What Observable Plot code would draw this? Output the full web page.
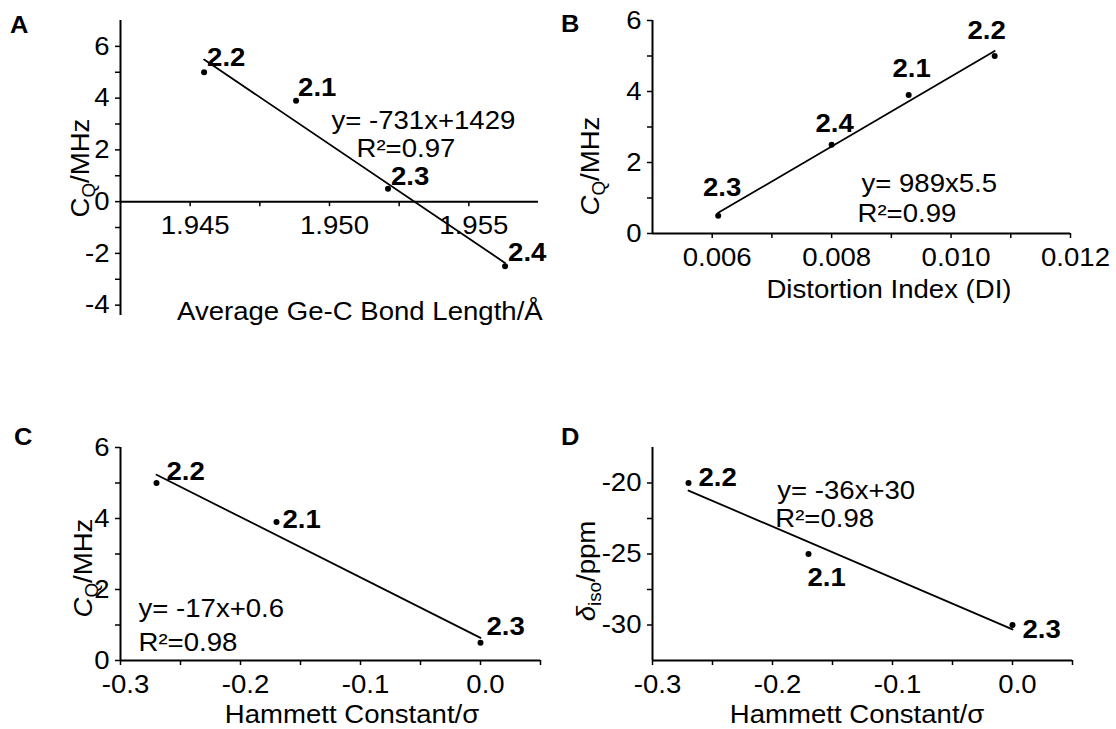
<!DOCTYPE html>
<html>
<head>
<meta charset="utf-8">
<script src="https://cdn.jsdelivr.net/npm/d3@7"></script>
<script src="https://cdn.jsdelivr.net/npm/@observablehq/plot@0.6"></script>
<style>
  html, body { margin: 0; padding: 0; background: #fff; }
  #fig { position: relative; width: 1116px; height: 729px; background: #fff; overflow: hidden; }
  #fig svg { position: absolute; left: 0; top: 0; overflow: visible; }
</style>
</head>
<body>
<div id="fig"></div>
<script>
// ---------------- DATA ----------------
const compoundsA = ["2.1", "2.2", "2.3", "2.4"];
const bondLength = [1.9488, 1.9455, 1.9521, 1.9563];      // Å
const cqA = [3.9, 5.0, 0.5, -2.5];                           // MHz

const compoundsB = ["2.1", "2.2", "2.3", "2.4"];
const distortionIndex = [0.00929, 0.01073, 0.0061, 0.0080];
const cqB = [3.9, 5.0, 0.5, 2.5];

const compoundsC = ["2.1", "2.2", "2.3"];
const hammettC = [-0.17, -0.27, 0.0];
const cqC = [3.9, 5.0, 0.5];

const compoundsD = ["2.1", "2.2", "2.3"];
const hammettD = [-0.17, -0.27, 0.0];
const deltaIso = [-25, -20, -30];                            // ppm

// tick values
const ticksAX = [1.945, 1.950, 1.955];
const minorAX = [1.9475, 1.9525];
const ticksAY = [-4, -2, 0, 2, 4, 6];
const minorAY = [-3, -1, 1, 3, 5];
const ticksBX = [0.006, 0.008, 0.010, 0.012];
const minorBX = [0.007, 0.009, 0.011];
const ticksBY = [0, 2, 4, 6];
const minorBY = [1, 3, 5];
const ticksHX = [-0.3, -0.2, -0.1, 0.0];
const minorHX = [-0.25, -0.15, -0.05, 0.05];
const ticksCY = [0, 2, 4, 6];
const minorCY = [1, 3, 5];
const ticksDY = [-30, -25, -20];
const minorDY = [-27.5, -22.5];

// equation texts
const eqA = ["y= -731x+1429", "R²=0.97"];
const eqB = ["y= 989x5.5", "R²=0.99"];
const eqC = ["y= -17x+0.6", "R²=0.98"];
const eqD = ["y= -36x+30", "R²=0.98"];

// ---------------- LAYOUT / STYLE ----------------
const W = 1116, H = 729;
const FONT = "'Liberation Sans', Arial, Helvetica, sans-serif";
const FS = 26;
const STRETCH = 1.06;   // glyphs in the reference are slightly wide

const tableA = compoundsA.map((id, i) => ({id, x: bondLength[i], y: cqA[i]}));
const tableB = compoundsB.map((id, i) => ({id, x: distortionIndex[i], y: cqB[i]}));
const tableC = compoundsC.map((id, i) => ({id, x: hammettC[i], y: cqC[i]}));
const tableD = compoundsD.map((id, i) => ({id, x: hammettD[i], y: deltaIso[i]}));

// label offsets (px) per compound: [dx, dy, anchor]
const offA = {"2.1": [2, -13, "start"], "2.2": [3, -15, "start"], "2.3": [3, -12, "start"], "2.4": [3, -14, "start"]};
const offB = {"2.1": [3, -26, "middle"], "2.2": [-8, -25, "middle"], "2.3": [4, -28, "middle"], "2.4": [3, -21, "middle"]};
const offC = {"2.1": [6, -2, "start"], "2.2": [10, -11, "start"], "2.3": [6, -16, "start"]};
const offD = {"2.1": [-1, 24, "start"], "2.2": [10, -5, "start"], "2.3": [10, 5, "start"]};

function pointMarks(table, offsets) {
  const marks = [
    Plot.linearRegressionY(table, {x: "x", y: "y", ci: 0, stroke: "black", strokeWidth: 1.8}),
    Plot.dot(table, {x: "x", y: "y", r: 3, fill: "black", stroke: "none"})
  ];
  for (const d of table) {
    const [dx, dy, anchor] = offsets[d.id];
    marks.push(Plot.text([d], {x: "x", y: "y", text: "id", dx, dy, textAnchor: anchor,
      lineAnchor: "middle", fontWeight: "bold", fontSize: FS, fill: "black"}));
  }
  return marks;
}

// equation annotation: lines placed at data positions (x, y per line)
function eqMarks(lines, pos) {
  return lines.map((t, i) => Plot.text([t], {x: () => pos[i][0], y: () => pos[i][1], text: d => d,
    textAnchor: "start", lineAnchor: "middle", fontSize: FS, fill: "black"}));
}

function xTicks(major, minor, yAt, fmt) {
  return [
    Plot.ruleX(major.concat(minor), {x: d => d, y1: yAt, y2: yAt, insetBottom: -5, stroke: "black", strokeWidth: 1.5}),
    Plot.text(major, {x: d => d, y: yAt, text: fmt, dx: 5, dy: 24, lineAnchor: "middle", fontSize: FS, fill: "black"})
  ];
}
function yTicks(major, minor, fmt) {
  return [
    Plot.axisY(minor, {anchor: "left", tickSize: 5, tickFormat: () => "", strokeWidth: 1.5, label: null}),
    Plot.axisY(major, {anchor: "left", tickSize: 5, tickPadding: 6, tickFormat: fmt, strokeWidth: 1.5, fontSize: FS, label: null})
  ];
}

function panel(frame, xDomain, yDomain, marks) {
  const [x0, x1, y0, y1] = frame;
  return Plot.plot({
    width: W, height: H,
    marginLeft: x0, marginRight: W - x1, marginTop: y0, marginBottom: H - y1,
    x: {domain: xDomain, axis: null, label: null},
    y: {domain: yDomain, axis: null, label: null},
    style: {fontFamily: FONT, fontSize: FS + "px", color: "black", background: "none", overflow: "visible"},
    marks
  });
}

function addText(svg, {x, y, rotate = 0, size = FS, weight = "normal", anchor = "start", parts}) {
  const t = d3.select(svg).append("text")
    .attr("transform", `translate(${x},${y}) rotate(${rotate})`)
    .attr("text-anchor", anchor)
    .attr("font-family", FONT)
    .attr("font-size", size)
    .attr("font-weight", weight)
    .attr("fill", "black");
  let shift = 0;
  for (const p of parts) {
    const s = t.append("tspan").text(p.t);
    if (p.italic) s.attr("font-style", "italic");
    if (p.sub) {
      s.attr("font-size", size * 0.68).attr("dy", 6 - shift);
      shift = 6;
    } else if (shift) {
      s.attr("dy", -shift);
      shift = 0;
    }
  }
}

function stretchTexts(svg) {
  svg.querySelectorAll("text").forEach(el => {
    const L = el.getComputedTextLength();
    if (L > 0) {
      el.setAttribute("textLength", (L * STRETCH).toFixed(1));
      el.setAttribute("lengthAdjust", "spacingAndGlyphs");
    }
  });
}

const fig = document.getElementById("fig");
const fmt1 = d => d.toFixed(1);
const fmt3 = d => d.toFixed(3);
const fmtInt = d => String(d);

// ---------- Panel A ----------
const aX = [1.9425, 1.9575];
const svgA = panel([120, 538, 20, 315], aX, [-4.4, 7], [
  Plot.ruleX([aX[0]], {stroke: "black", strokeWidth: 2}),
  Plot.ruleY([0], {stroke: "black", strokeWidth: 2}),
  ...xTicks(ticksAX, minorAX, 0, fmt3),
  ...yTicks(ticksAY, minorAY, fmtInt),
  ...pointMarks(tableA, offA),
  ...eqMarks(eqA, [[1.95007, 3.12], [1.95097, 2.05]])
]);
fig.appendChild(svgA);
addText(svgA, {x: 10, y: 33, size: 24, weight: "bold", parts: [{t: "A"}]});
addText(svgA, {x: 177, y: 320, parts: [{t: "Average Ge-C Bond Length/Å"}]});
addText(svgA, {x: 89, y: 168, rotate: -90, anchor: "middle", parts: [{t: "C"}, {t: "Q", sub: true}, {t: "/MHz"}]});

// ---------- Panel B ----------
const bX = [0.005, 0.012];
const svgB = panel([652, 1070, 20, 233], bX, [0, 6], [
  Plot.ruleX([bX[0]], {stroke: "black", strokeWidth: 2}),
  Plot.ruleY([0], {stroke: "black", strokeWidth: 2}),
  ...xTicks(ticksBX, minorBX, 0, fmt3),
  ...yTicks(ticksBY, minorBY, fmtInt),
  ...pointMarks(tableB, offB),
  ...eqMarks(eqB, [[0.0085, 1.41], [0.008433, 0.563]])
]);
fig.appendChild(svgB);
addText(svgB, {x: 561, y: 32, size: 24, weight: "bold", parts: [{t: "B"}]});
addText(svgB, {x: 889, y: 298, anchor: "middle", parts: [{t: "Distortion Index (DI)"}]});
addText(svgB, {x: 599, y: 166, rotate: -90, anchor: "middle", parts: [{t: "C", italic: true}, {t: "Q", sub: true}, {t: "/MHz"}]});

// ---------- Panel C ----------
const hX = [-0.3, 0.05];
const svgC = panel([120, 540, 447, 660], hX, [0, 6], [
  Plot.ruleX([hX[0]], {stroke: "black", strokeWidth: 2}),
  Plot.ruleY([0], {stroke: "black", strokeWidth: 2}),
  ...xTicks(ticksHX, minorHX, 0, fmt1),
  ...yTicks(ticksCY, minorCY, fmtInt),
  ...pointMarks(tableC, offC),
  ...eqMarks(eqC, [[-0.285, 1.465], [-0.285, 0.507]])
]);
fig.appendChild(svgC);
addText(svgC, {x: 14, y: 445, size: 24, weight: "bold", parts: [{t: "C"}]});
addText(svgC, {x: 352, y: 723, anchor: "middle", parts: [{t: "Hammett Constant/σ"}]});
addText(svgC, {x: 92, y: 568, rotate: -90, anchor: "middle", parts: [{t: "C", italic: true}, {t: "Q", sub: true}, {t: "/MHz"}]});

// ---------- Panel D ----------
const dY = [-32.5, -17.5];
const svgD = panel([652, 1072, 447, 660], hX, dY, [
  Plot.ruleX([hX[0]], {stroke: "black", strokeWidth: 2}),
  Plot.ruleY([dY[0]], {stroke: "black", strokeWidth: 2}),
  ...xTicks(ticksHX, minorHX, dY[0], fmt1),
  ...yTicks(ticksDY, minorDY, fmtInt),
  ...pointMarks(tableD, offD),
  ...eqMarks(eqD, [[-0.196, -20.53], [-0.1977, -22.5]])
]);
fig.appendChild(svgD);
addText(svgD, {x: 561, y: 445, size: 24, weight: "bold", parts: [{t: "D"}]});
addText(svgD, {x: 857, y: 723, anchor: "middle", parts: [{t: "Hammett Constant/σ"}]});
addText(svgD, {x: 595, y: 571, rotate: -90, anchor: "middle", parts: [{t: "δ", italic: true}, {t: "iso", sub: true}, {t: "/ppm"}]});

[svgA, svgB, svgC, svgD].forEach(stretchTexts);
</script>
</body>
</html>
